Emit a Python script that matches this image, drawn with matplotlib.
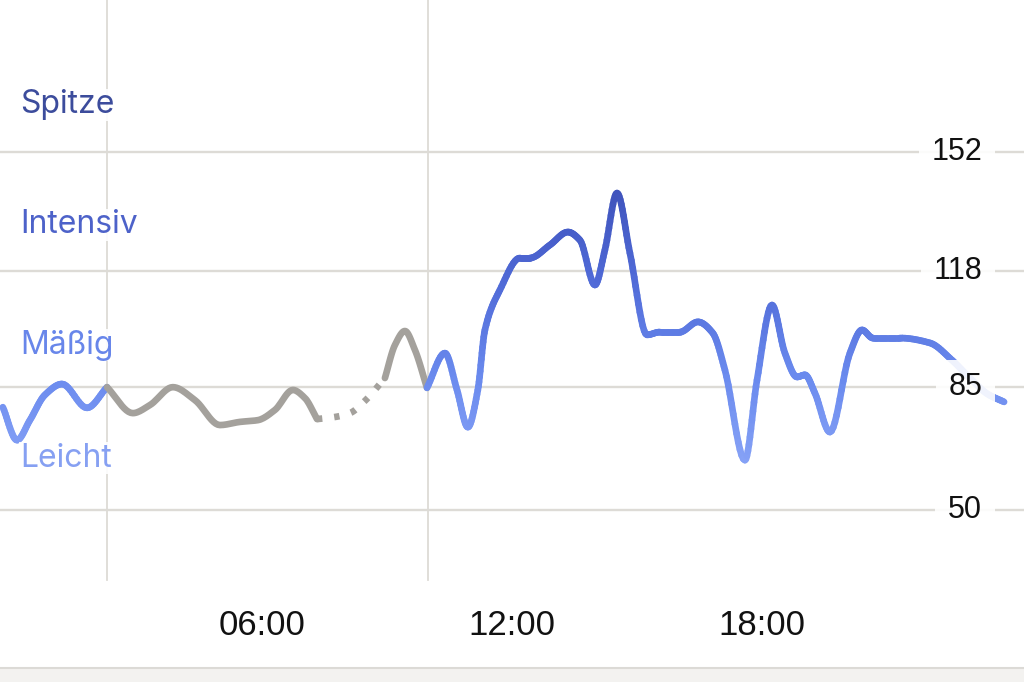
import numpy as np
import matplotlib
matplotlib.use("Agg")
import matplotlib.pyplot as plt
from matplotlib.collections import LineCollection
from matplotlib.colors import LinearSegmentedColormap, Normalize

# Herzfrequenz-Zonen (links) und Skala (rechts)
zone_names = ["Spitze", "Intensiv", "Mäßig", "Leicht"]
zone_y = [165.4, 131.2, 97.0, 64.8]
zone_colors = ["#3c4c9c", "#4d62c9", "#6886ea", "#86a0f2"]

y_ticks = [152, 118, 85, 50]
x_ticks = [6, 12, 18]
x_labels = ["06:00", "12:00", "18:00"]
v_lines = [2.28, 9.98]

wake1_h = [-0.22, 0.12, 0.43, 0.79, 1.20, 1.80, 2.28]
wake1_bpm = [79.3, 69.9, 75.6, 82.8, 85.9, 79.1, 85.0]

sleep1_h = [2.28, 2.90, 3.31, 3.86, 4.39, 4.99, 5.47, 5.90, 6.31, 6.74, 7.03, 7.32]
sleep1_bpm = [85.0, 77.6, 79.9, 85.0, 81.3, 74.2, 75.1, 75.6, 78.5, 84.2, 81.9, 75.9]

gap_h = [7.32, 7.75, 8.11, 8.47, 8.95]
gap_bpm = [75.9, 76.5, 77.6, 81.1, 87.6]

sleep2_h = [8.95, 9.19, 9.43, 9.67, 9.96]
sleep2_bpm = [87.6, 97.0, 101.0, 95.6, 84.8]

wake2_h = [9.96, 10.39, 10.68, 10.94, 11.18, 11.35, 11.71, 12.19, 12.43, 12.91,
           13.34, 13.63, 13.99, 14.23, 14.52, 14.83, 15.24, 15.55, 16.03, 16.46,
           16.82, 17.11, 17.59, 17.88, 18.24, 18.55, 18.84, 19.03, 19.27, 19.63,
           20.11, 20.40, 20.66, 21.31, 22.03, 22.56, 22.99, 23.42, 23.81]
wake2_bpm = [84.8, 94.7, 84.2, 73.6, 84.2, 101.3, 112.7, 121.8, 121.8, 125.5,
             129.2, 126.9, 114.1, 124.1, 140.3, 123.2, 99.9, 100.7, 100.7, 103.6,
             100.4, 89.9, 64.2, 87.0, 108.4, 94.7, 87.9, 88.5, 83.3, 72.2,
             94.7, 101.3, 99.0, 99.0, 97.6, 92.7, 87.6, 83.0, 80.8]

grey = "#a4a19c"
grid_col = "#dddbd6"
cmap = LinearSegmentedColormap.from_list("hr", ["#8aa5f7", "#6a8aee", "#4f69d6", "#3d50b8"])
norm = Normalize(60, 145)
lw = 4.8


def smooth(x, y, n=12):
    # monotone Kurve (wie curveMonotoneX) nur fuer die Darstellung
    x = np.asarray(x, float)
    y = np.asarray(y, float)
    h = np.diff(x)
    d = np.diff(y) / h
    m = np.zeros_like(y)
    m[0], m[-1] = d[0], d[-1]
    for k in range(1, len(y) - 1):
        if d[k - 1] * d[k] > 0:
            w1 = 2 * h[k] + h[k - 1]
            w2 = h[k] + 2 * h[k - 1]
            m[k] = (w1 + w2) / (w1 / d[k - 1] + w2 / d[k])
    xs, ys = [], []
    t = np.linspace(0, 1, n, endpoint=False)
    for k in range(len(h)):
        h00 = 2 * t**3 - 3 * t**2 + 1
        h10 = t**3 - 2 * t**2 + t
        h01 = -2 * t**3 + 3 * t**2
        h11 = t**3 - t**2
        xs.append(x[k] + t * h[k])
        ys.append(h00 * y[k] + h10 * h[k] * m[k] + h01 * y[k + 1] + h11 * h[k] * m[k + 1])
    xs.append([x[-1]])
    ys.append([y[-1]])
    return np.concatenate(xs), np.concatenate(ys)


def blue_line(ax, x, y):
    sx, sy = smooth(x, y)
    pts = np.column_stack([sx, sy]).reshape(-1, 1, 2)
    segs = np.concatenate([pts[:-1], pts[1:]], axis=1)
    vals = (sy[:-1] + sy[1:]) / 2
    lc = LineCollection(segs, colors=cmap(norm(vals)), linewidths=lw,
                        capstyle="round", joinstyle="round", zorder=3)
    ax.add_collection(lc)


fig = plt.figure(figsize=(10.24, 6.82), dpi=100)
ax = fig.add_axes([0, 0, 1, 1])
ax.set_xlim(-0.288, 24.288)
ax.set_ylim(1.0, 195.3)
ax.axis("off")

# Gitter
for v in y_ticks:
    ax.axhline(v, color=grid_col, lw=1.7, zorder=1)
for h in v_lines:
    ax.plot([h, h], [30, 195.3], color=grid_col, lw=1.3, zorder=1)

# untere Leiste
ax.axhspan(1.0, 5.0, color="#f3f2f0", lw=0, zorder=1)
ax.axhline(5.0, color="#dcdad6", lw=1.5, zorder=1)

# Kurve
blue_line(ax, wake1_h, wake1_bpm)
sx, sy = smooth(sleep1_h, sleep1_bpm)
ax.plot(sx, sy, color=grey, lw=lw, solid_capstyle="round", zorder=3)
sx, sy = smooth(gap_h, gap_bpm)
ax.plot(sx, sy, color=grey, lw=lw, ls=(0, (0.8, 1.8)), dash_capstyle="butt", zorder=3)
sx, sy = smooth(sleep2_h, sleep2_bpm)
ax.plot(sx, sy, color=grey, lw=lw, solid_capstyle="round", zorder=3)
blue_line(ax, wake2_h, wake2_bpm)

# Beschriftungen
for name, y, c in zip(zone_names, zone_y, zone_colors):
    ax.text(0.19, y, name, color=c, fontsize=23, family="Inter", ha="left", va="center",
            zorder=4, bbox=dict(facecolor="white", edgecolor="none", alpha=0.9, pad=0.5))

for v in y_ticks:
    ax.text(23.28, v, str(v), color="#111111", fontsize=22, family="Liberation Sans",
            ha="right", va="center", zorder=4,
            bbox=dict(facecolor="white", edgecolor="none", alpha=0.9, pad=9))

for h, lab in zip(x_ticks, x_labels):
    ax.text(h, 17.0, lab, color="#111111", fontsize=25, family="Liberation Sans",
            ha="center", va="center", zorder=4)

fig.savefig("out.png", dpi=100)
